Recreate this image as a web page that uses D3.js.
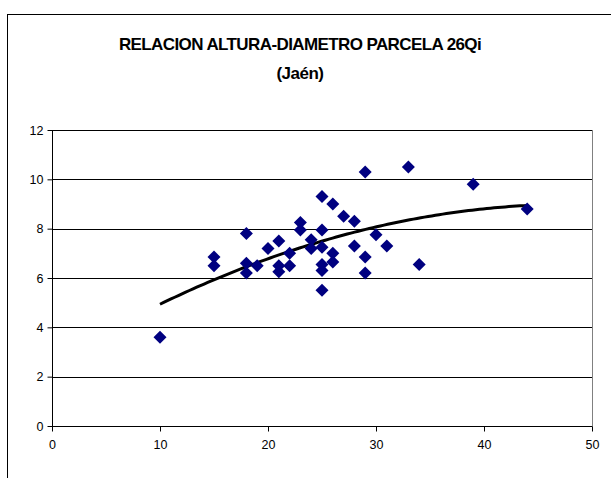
<!DOCTYPE html>
<html><head><meta charset="utf-8">
<script src="https://cdn.jsdelivr.net/npm/d3@7"></script>
<style>body{margin:0;background:#fff}svg{display:block}text{font-family:"Liberation Sans",Arial,sans-serif}</style>
</head><body><svg id="c" width="611" height="478"></svg>
<script>
const diameter = [10,15,15,18,18,18,19,20,21,21,21,22,22,23,23,24,24,25,25,25,25,25,25,26,26,26,27,28,28,29,29,29,30,31,33,34,39,44];
const height   = [3.6,6.85,6.5,7.8,6.6,6.2,6.5,7.2,7.5,6.5,6.25,7.0,6.5,8.25,7.95,7.55,7.2,9.3,7.95,7.25,6.55,6.3,5.5,9.0,7.0,6.65,8.5,8.3,7.3,10.3,6.85,6.2,7.75,7.3,10.5,6.55,9.8,8.8];
const xTicks = [0,10,20,30,40,50];
const yTicks = [0,2,4,6,8,10,12];
const titleLines = ["RELACION ALTURA-DIAMETRO PARCELA 26Qi","(Jaén)"];

const svg = d3.select("#c");
const L=52,R=592,T=130,B=426;
const x = d3.scaleLinear().domain([0,50]).range([L,R]);
const y = d3.scaleLinear().domain([0,12]).range([B,T]);

// outer frame
svg.append("rect").attr("x",7.5).attr("y",14.5).attr("width",620).attr("height",480)
  .attr("fill","none").attr("stroke","#000").attr("stroke-width",1);

// title
svg.append("text").attr("x",300).attr("y",49.5).attr("text-anchor","middle")
  .attr("font-weight","bold").attr("font-size",17).attr("letter-spacing",-0.6).text(titleLines[0]);
svg.append("text").attr("x",300).attr("y",78.5).attr("text-anchor","middle")
  .attr("font-weight","bold").attr("font-size",17).attr("letter-spacing",-0.5).text(titleLines[1]);

// plot border
svg.append("rect").attr("x",L+0.5).attr("y",T+0.5).attr("width",R-L).attr("height",B-T)
  .attr("fill","none").attr("stroke","#808080");

// gridlines
svg.append("g").selectAll("line").data(yTicks.filter(d=>d>0)).join("line")
  .attr("x1",L).attr("x2",R).attr("y1",d=>Math.round(y(d))+0.5).attr("y2",d=>Math.round(y(d))+0.5)
  .attr("stroke","#000").attr("stroke-width",1);

// axes
const yAxis = svg.append("g").attr("transform",`translate(${L+0.5},0)`)
  .call(d3.axisLeft(y).tickValues(yTicks).tickSize(5).tickPadding(4).tickFormat(d3.format("d")));
const xAxis = svg.append("g").attr("transform",`translate(0,${B+0.5})`)
  .call(d3.axisBottom(x).tickValues(xTicks).tickSize(5).tickPadding(9).tickFormat(d3.format("d")));
[yAxis,xAxis].forEach(g=>{
  g.select(".domain").attr("stroke","#000").attr("d", g===yAxis?`M0,${T}V${B}`:`M${L},0H${R}`);
  g.selectAll(".tick line").attr("stroke","#000");
  g.selectAll("text").attr("font-size",12.5).attr("fill","#000").attr("font-family","Liberation Sans, Arial, sans-serif");
});

// polynomial (order 2) trendline from data, least squares
const n = diameter.length;
let S=[0,0,0,0,0], Sy=[0,0,0];
for(let i=0;i<n;i++){const xi=diameter[i],yi=height[i];
  for(let k=0;k<5;k++) S[k]+=Math.pow(xi,k);
  for(let k=0;k<3;k++) Sy[k]+=yi*Math.pow(xi,k);}
function solve(A,b){const m=A.length;A=A.map((r,i)=>[...r,b[i]]);
  for(let i=0;i<m;i++){let p=i;for(let j=i+1;j<m;j++)if(Math.abs(A[j][i])>Math.abs(A[p][i]))p=j;[A[i],A[p]]=[A[p],A[i]];
    for(let j=i+1;j<m;j++){const f=A[j][i]/A[i][i];for(let k=i;k<=m;k++)A[j][k]-=f*A[i][k];}}
  const r=new Array(m);for(let i=m-1;i>=0;i--){let s=A[i][m];for(let k=i+1;k<m;k++)s-=A[i][k]*r[k];r[i]=s/A[i][i];}return r;}
const coef = solve([[S[0],S[1],S[2]],[S[1],S[2],S[3]],[S[2],S[3],S[4]]],Sy);
const xmin=d3.min(diameter), xmax=d3.max(diameter);
const trend = d3.range(0,101).map(i=>{const xv=xmin+(xmax-xmin)*i/100;return [xv,coef[0]+coef[1]*xv+coef[2]*xv*xv];});
svg.append("path").datum(trend).attr("fill","none").attr("stroke","#000").attr("stroke-width",3)
  .attr("d",d3.line().x(d=>x(d[0])).y(d=>y(d[1])));

// points
const pts = diameter.map((d,i)=>[d,height[i]]);
svg.append("g").selectAll("path").data(pts).join("path")
  .attr("transform",d=>`translate(${x(d[0])},${y(d[1])})`)
  .attr("d","M0,-6.5L6.5,0L0,6.5L-6.5,0Z").attr("fill","#000080");
</script></body></html>
